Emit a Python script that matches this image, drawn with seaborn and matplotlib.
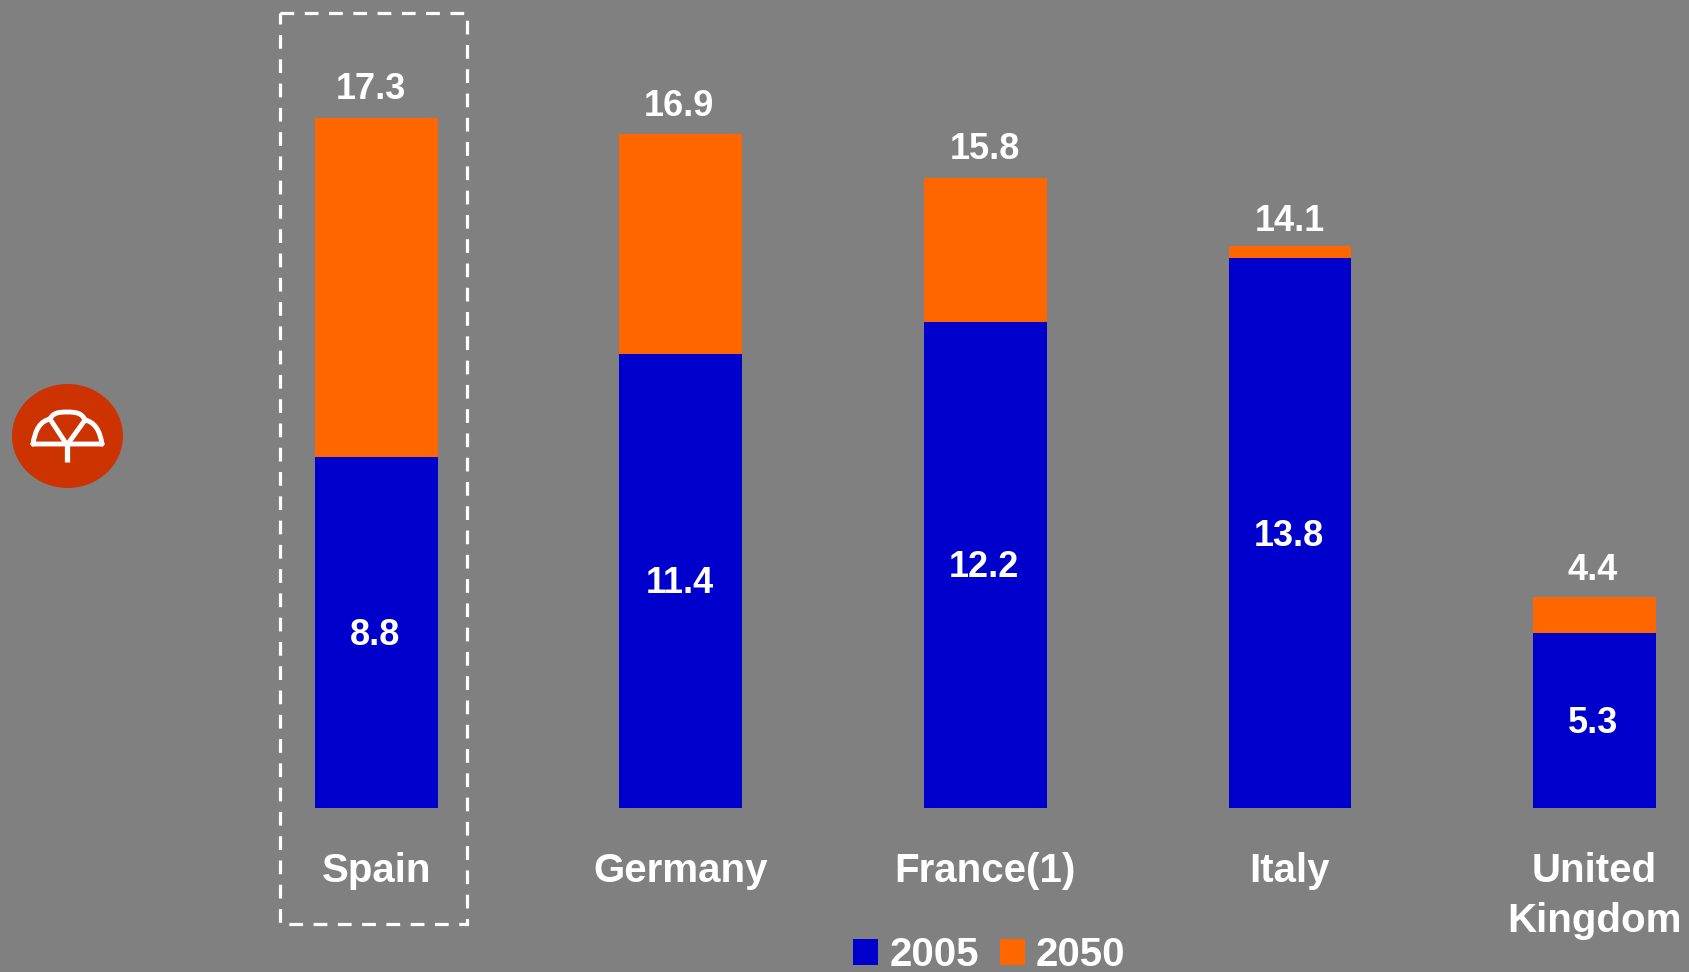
import matplotlib
matplotlib.use("Agg")
import matplotlib.pyplot as plt
from matplotlib.patches import Ellipse, PathPatch, Patch, Rectangle
from matplotlib.path import Path
import pandas as pd
import seaborn as sns

countries = ["Spain", "Germany", "France(1)", "Italy", "United\nKingdom"]
share_2005 = [8.8, 11.4, 12.2, 13.8, 4.4]
share_2050 = [17.3, 16.9, 15.8, 14.1, 5.3]
inner_labels = ["8.8", "11.4", "12.2", "13.8", "5.3"]
top_labels = ["17.3", "16.9", "15.8", "14.1", "4.4"]
legend_years = ["2005", "2050"]

BG = "#808080"
BLUE = "#0000CC"
ORANGE = "#FF6600"
LOGO_RED = "#CC3300"
W, H = 1689, 972
BASE_PX = 808
PX_PER_UNIT = 39.86
FIRST_X_PX = 376.2
STEP_PX = 304.6
top_label_rise = [20.5, 20, 21, 17.5, 19]
top_label_shift = [-3.5, -1, 0, 0, -1.5]

sns.set_theme(style="white")
plt.rcParams["font.family"] = ["Liberation Sans", "DejaVu Sans"]
plt.rcParams["font.weight"] = "bold"

df = pd.DataFrame({"country": countries, "y2005": share_2005, "y2050": share_2050})

fig = plt.figure(figsize=(W / 100, H / 100), dpi=100, facecolor=BG)
ax = fig.add_axes([0, (H - BASE_PX) / H, 1, BASE_PX / H], facecolor="none")

# The later year stands behind, so only its excess over 2005 stays visible.
sns.barplot(data=df, x="country", y="y2050", color=ORANGE, saturation=1,
            width=0.403, linewidth=0, ax=ax)
sns.barplot(data=df, x="country", y="y2005", color=BLUE, saturation=1,
            width=0.403, linewidth=0, ax=ax)

ax.set_xlim(-FIRST_X_PX / STEP_PX, (W - FIRST_X_PX) / STEP_PX)
ax.set_ylim(0, BASE_PX / PX_PER_UNIT)
ax.set_xlabel("")
ax.set_ylabel("")
ax.set_yticks([])
sns.despine(ax=ax, left=True, bottom=True)
ax.tick_params(axis="x", length=0, pad=32)
for tick in ax.get_xticklabels():
    tick.set_color("white")
    tick.set_fontsize(29)
    tick.set_fontweight("bold")
    tick.set_linespacing(1.4)

for i, (low, high, inner, top) in enumerate(
        zip(share_2005, share_2050, inner_labels, top_labels)):
    ax.annotate(top, (i, high), xytext=(top_label_shift[i], top_label_rise[i]),
                textcoords="offset points", ha="center", va="center",
                color="white", fontsize=26, fontweight="bold")
    ax.annotate(inner, (i, low / 2), xytext=(-1, -2.2), textcoords="offset points",
                ha="center", va="center", color="white", fontsize=26, fontweight="bold")

handles = [Patch(facecolor=BLUE, linewidth=0), Patch(facecolor=ORANGE, linewidth=0)]
fig.legend(handles, legend_years, ncol=2, frameon=False, loc="lower left",
           bbox_to_anchor=(853 / W, -0.002), fontsize=29,
           labelcolor="white", handlelength=0.63, handleheight=0.63,
           handletextpad=0.27, columnspacing=0.52, borderpad=0.0, borderaxespad=0.0)

# Overlay in pixel units for the highlight frame and the logo.
over = fig.add_axes([0, 0, 1, 1], facecolor="none")
over.set_xlim(0, W)
over.set_ylim(H, 0)
over.axis("off")

over.add_patch(Rectangle((280, 13), 187, 911, fill=False, edgecolor="white",
                         linewidth=2.3, linestyle=(0, (4.3, 3.3))))

over.add_patch(Ellipse((67.5, 436), 111, 104, facecolor=LOGO_RED, edgecolor="none"))
lw_logo = 3.5
canopy = Path(
    [(33, 444), (102, 444),
     (33, 444), (36, 422), (50, 419),
     (50, 419), (53, 413), (58, 412), (67, 412), (76, 412), (82, 413), (85, 420),
     (85, 420), (99, 423), (102, 444)],
    [Path.MOVETO, Path.LINETO,
     Path.MOVETO, Path.CURVE3, Path.CURVE3,
     Path.MOVETO, Path.CURVE4, Path.CURVE4, Path.CURVE4, Path.CURVE4, Path.CURVE4, Path.CURVE4,
     Path.MOVETO, Path.CURVE3, Path.CURVE3],
)
over.add_patch(PathPatch(canopy, fill=False, edgecolor="white", linewidth=lw_logo,
                         capstyle="round", joinstyle="round"))
over.plot([50, 67, 85], [419, 445, 420], color="white", linewidth=lw_logo,
          solid_joinstyle="miter")
over.plot([67, 67], [445, 462], color="white", linewidth=3.8, solid_capstyle="butt")

fig.savefig("out.png", dpi=100, facecolor=BG)
